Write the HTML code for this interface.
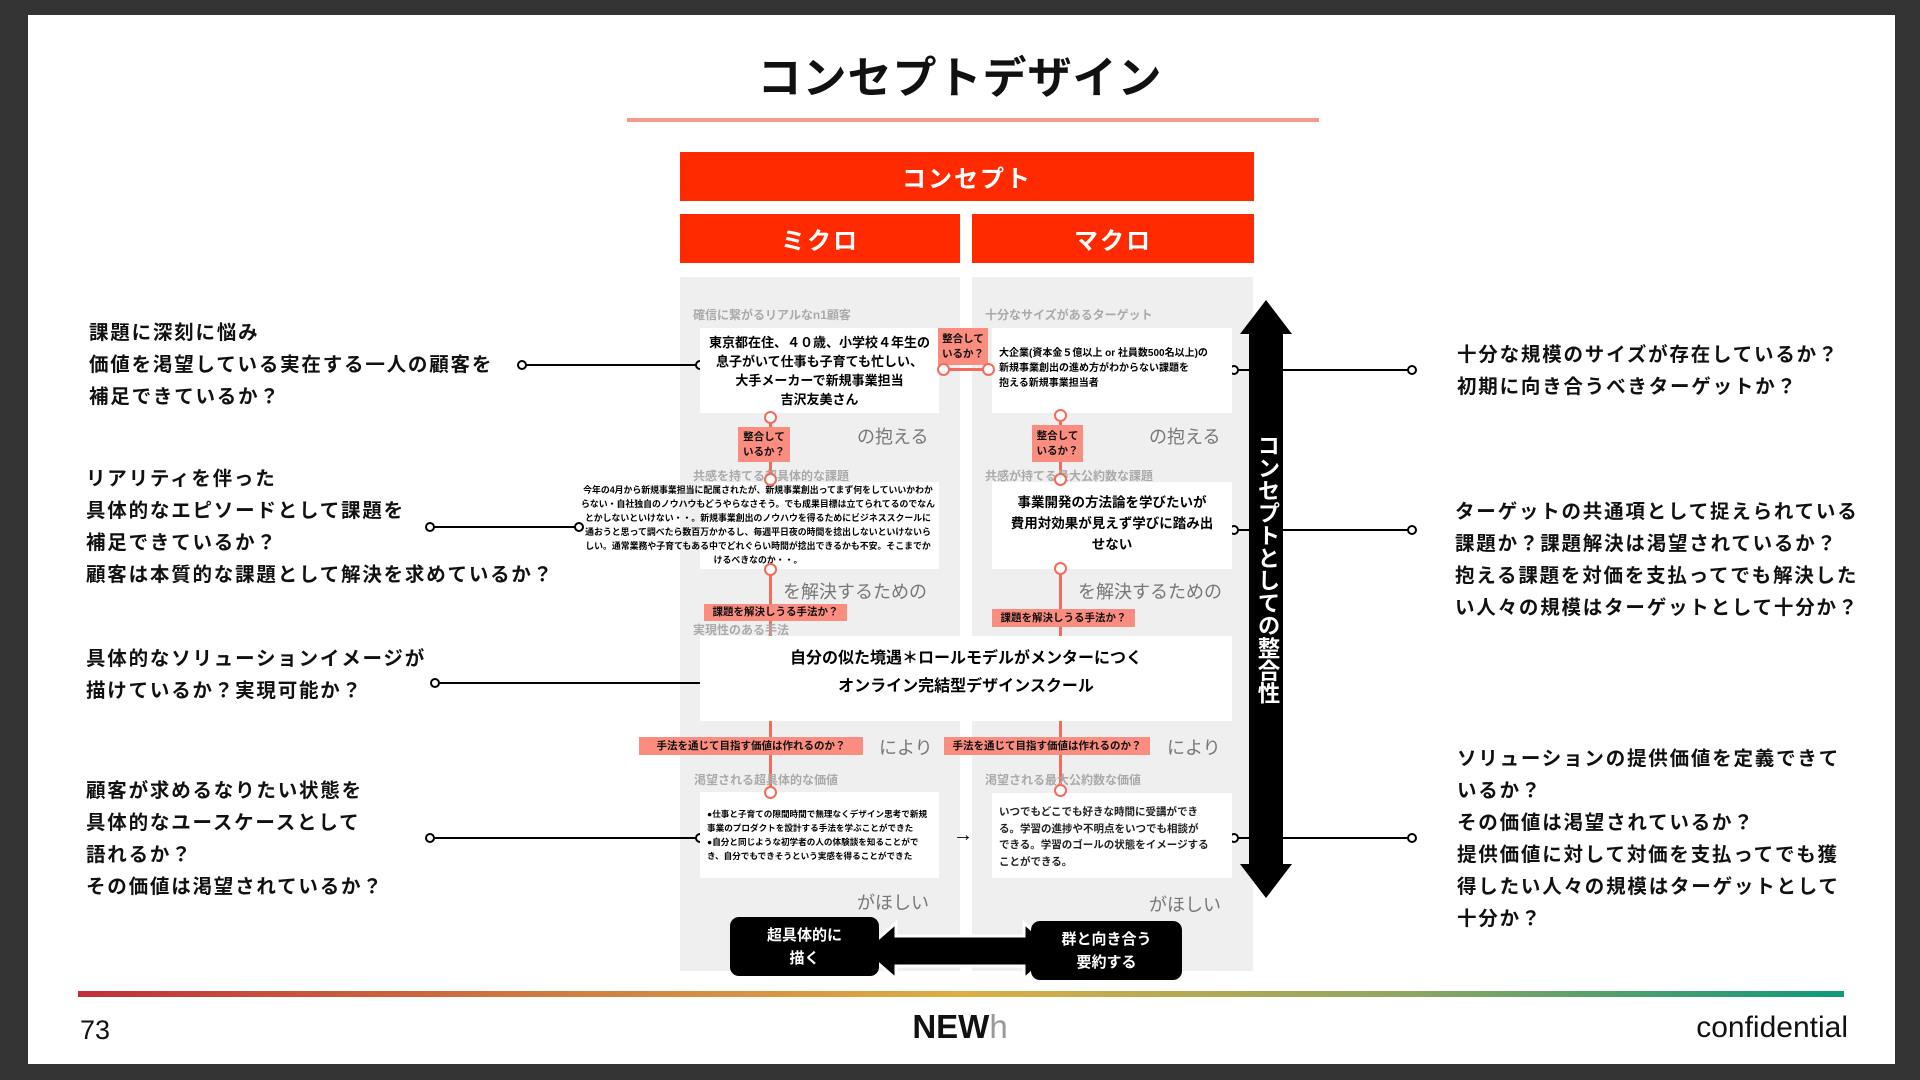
<!DOCTYPE html>
<html><head><meta charset="utf-8"><style>
*{margin:0;padding:0;box-sizing:border-box}
body{width:1920px;height:1080px;background:#333;position:relative;overflow:hidden;font-family:"Liberation Sans","Noto Sans CJK JP",sans-serif;}
.a{position:absolute}
.slide{left:28px;top:15px;width:1867px;height:1049px;background:#fff}
.panel{background:#efefef}
.bar{background:#ff2a00;color:#fff;font-weight:bold;font-size:24px;display:flex;align-items:center;justify-content:center;letter-spacing:2px}
.box{background:#fff}
.lbl{color:#aaa;font-size:12px;font-weight:bold;white-space:nowrap}
.pill{background:#fa8c80;color:#111;font-weight:bold;font-size:10.5px;line-height:15px;white-space:nowrap;display:flex;align-items:center;justify-content:center;text-align:center}
.sl{background:#f26b5b}
.sc{width:13px;height:13px;border:2.5px solid #f26b5b;border-radius:50%;background:#fff}
.bc{width:10px;height:10px;border:2px solid #000;border-radius:50%;background:#fff}
.bl{background:#000;height:2px}
.gr{color:#777;font-size:18px;white-space:nowrap}
.q{font-size:19.5px;font-weight:bold;line-height:32px;white-space:nowrap;color:#111;letter-spacing:1.8px}
.qr{font-size:19.5px;font-weight:bold;line-height:32px;white-space:nowrap;color:#111;letter-spacing:1.8px}
.c{text-align:center;white-space:nowrap}
</style></head><body>
<div class="a slide"></div>
<div class="a" style="left:0;top:42px;width:1920px;text-align:center;font-size:44px;font-weight:bold;letter-spacing:1px;color:#111">コンセプトデザイン</div>
<div class="a" style="left:627px;top:118px;width:692px;height:4px;background:#f59a8c"></div>

<div class="a bar" style="left:680px;top:152px;width:574px;height:49px">コンセプト</div>
<div class="a bar" style="left:680px;top:214px;width:280px;height:49px">ミクロ</div>
<div class="a bar" style="left:972px;top:214px;width:282px;height:49px">マクロ</div>

<div class="a panel" style="left:680px;top:277px;width:280px;height:694px"></div>
<div class="a panel" style="left:972px;top:277px;width:281px;height:694px"></div>

<div class="a bl" style="left:522px;top:364px;width:178px"></div>
<div class="a bc" style="left:517px;top:360px"></div>
<div class="a bc" style="left:695px;top:360px"></div>
<div class="a bl" style="left:430px;top:526px;width:149px"></div>
<div class="a bc" style="left:425px;top:522px"></div>
<div class="a bc" style="left:574px;top:522px"></div>
<div class="a bl" style="left:435px;top:682px;width:265px"></div>
<div class="a bc" style="left:430px;top:678px"></div>
<div class="a bl" style="left:430px;top:837px;width:270px"></div>
<div class="a bc" style="left:425px;top:833px"></div>
<div class="a bc" style="left:695px;top:833px"></div>
<div class="a bl" style="left:1234px;top:369px;width:178px"></div>
<div class="a bc" style="left:1229px;top:365px"></div>
<div class="a bc" style="left:1407px;top:365px"></div>
<div class="a bl" style="left:1234px;top:529px;width:178px"></div>
<div class="a bc" style="left:1229px;top:525px"></div>
<div class="a bc" style="left:1407px;top:525px"></div>
<div class="a bl" style="left:1234px;top:837px;width:178px"></div>
<div class="a bc" style="left:1229px;top:833px"></div>
<div class="a bc" style="left:1407px;top:833px"></div>

<div class="a sl" style="left:769px;top:417px;width:3px;height:62px"></div>
<div class="a sl" style="left:769px;top:569px;width:3px;height:67px"></div>
<div class="a sl" style="left:769px;top:721px;width:3px;height:71px"></div>
<div class="a sl" style="left:1059px;top:415px;width:3px;height:64px"></div>
<div class="a sl" style="left:1059px;top:568px;width:3px;height:68px"></div>
<div class="a sl" style="left:1059px;top:721px;width:3px;height:69px"></div>
<div class="a sl" style="left:944px;top:368px;width:44px;height:3px"></div>

<div class="a lbl" style="left:693px;top:306px">確信に繋がるリアルなn1顧客</div>
<div class="a lbl" style="left:985px;top:306px">十分なサイズがあるターゲット</div>
<div class="a lbl" style="left:693px;top:467px">共感を持てる超具体的な課題</div>
<div class="a lbl" style="left:985px;top:467px">共感が持てる最大公約数な課題</div>
<div class="a lbl" style="left:693px;top:621px">実現性のある手法</div>
<div class="a lbl" style="left:694px;top:771px">渇望される超具体的な価値</div>
<div class="a lbl" style="left:985px;top:771px">渇望される最大公約数な価値</div>

<div class="a box c" style="left:700px;top:328px;width:239px;height:85px;padding-top:5px;font-size:13px;font-weight:bold;line-height:19px">東京都在住、４０歳、小学校４年生の<br>息子がいて仕事も子育ても忙しい、<br>大手メーカーで新規事業担当<br>吉沢友美さん</div>
<div class="a box" style="left:992px;top:328px;width:240px;height:85px;padding:18px 0 0 7px;font-size:10px;font-weight:bold;line-height:15px;white-space:nowrap">大企業(資本金５億以上 or 社員数500名以上)の<br>新規事業創出の進め方がわからない課題を<br>抱える新規事業担当者</div>
<div class="a box" style="left:700px;top:482px;width:239px;height:87px"></div>
<div class="a c" style="left:570px;top:482px;width:376px;font-size:8.9px;font-weight:bold;line-height:14px;padding-top:1px">今年の4月から新規事業担当に配属されたが、新規事業創出ってまず何をしていいかわか<br>らない・自社独自のノウハウもどうやらなさそう。でも成果目標は立てられてるのでなん<br>とかしないといけない・・。新規事業創出のノウハウを得るためにビジネススクールに<br>通おうと思って調べたら数百万かかるし、毎週平日夜の時間を捻出しないといけないら<br>しい。通常業務や子育てもある中でどれぐらい時間が捻出できるかも不安。そこまでか<br>けるべきなのか・・。</div>
<div class="a box c" style="left:992px;top:482px;width:240px;height:87px;padding-top:10px;font-size:13.5px;font-weight:bold;line-height:21px">事業開発の方法論を学びたいが<br>費用対効果が見えず学びに踏み出<br>せない</div>
<div class="a box c" style="left:700px;top:636px;width:532px;height:85px;padding-top:9px;font-size:16px;font-weight:bold;line-height:28px">自分の似た境遇＊ロールモデルがメンターにつく<br>オンライン完結型デザインスクール</div>
<div class="a box" style="left:700px;top:792px;width:239px;height:86px;padding:15px 0 0 7px;font-size:8.6px;font-weight:bold;line-height:14px;white-space:nowrap">●仕事と子育ての隙間時間で無理なくデザイン思考で新規<br>事業のプロダクトを設計する手法を学ぶことができた<br>●自分と同じような初学者の人の体験談を知ることがで<br>き、自分でもできそうという実感を得ることができた</div>
<div class="a box" style="left:992px;top:793px;width:240px;height:85px;padding:11px 0 0 7px;font-size:10.5px;font-weight:bold;line-height:16.5px;white-space:nowrap;color:#222">いつでもどこでも好きな時間に受講ができ<br>る。学習の進捗や不明点をいつでも相談が<br>できる。学習のゴールの状態をイメージする<br>ことができる。</div>

<div class="a pill" style="left:938px;top:328px;width:50px;height:37px">整合して<br>いるか？</div>
<div class="a pill" style="left:738px;top:427px;width:52px;height:35px">整合して<br>いるか？</div>
<div class="a pill" style="left:1032px;top:425px;width:51px;height:37px">整合して<br>いるか？</div>
<div class="a pill" style="left:704px;top:604px;width:143px;height:17px">課題を解決しうる手法か？</div>
<div class="a pill" style="left:992px;top:609px;width:143px;height:18px">課題を解決しうる手法か？</div>
<div class="a pill" style="left:639px;top:737px;width:224px;height:18px">手法を通じて目指す価値は作れるのか？</div>
<div class="a pill" style="left:944px;top:737px;width:206px;height:18px">手法を通じて目指す価値は作れるのか？</div>

<div class="a sc" style="left:937px;top:363px"></div>
<div class="a sc" style="left:982px;top:363px"></div>
<div class="a sc" style="left:764px;top:411px"></div>
<div class="a sc" style="left:764px;top:473px"></div>
<div class="a sc" style="left:764px;top:563px"></div>
<div class="a sc" style="left:764px;top:786px"></div>
<div class="a sc" style="left:1054px;top:409px"></div>
<div class="a sc" style="left:1054px;top:473px"></div>
<div class="a sc" style="left:1054px;top:562px"></div>
<div class="a sc" style="left:1054px;top:784px"></div>

<div class="a gr" style="left:857px;top:423px">の抱える</div>
<div class="a gr" style="left:1149px;top:423px">の抱える</div>
<div class="a gr" style="left:783px;top:578px">を解決するための</div>
<div class="a gr" style="left:1078px;top:578px">を解決するための</div>
<div class="a gr" style="left:879px;top:734px">により</div>
<div class="a gr" style="left:1167px;top:734px">により</div>
<div class="a gr" style="left:857px;top:889px">がほしい</div>
<div class="a gr" style="left:1149px;top:891px">がほしい</div>
<div class="a" style="left:953px;top:824px;font-size:20px">→</div>

<svg class="a" style="left:1238px;top:300px" width="56" height="598">
<polygon points="28,0 54,34 45,34 45,564 54,564 28,598 2,564 11,564 11,34 2,34" fill="#000"/>
</svg>
<div class="a" style="left:1254px;top:434px;width:26px;writing-mode:vertical-rl;font-size:22.5px;font-weight:bold;color:#fff;line-height:26px">コンセプトとしての整合性</div>

<svg class="a" style="left:860px;top:920px" width="200" height="62">
<polygon points="4,31 36,3 36,16 164,16 164,3 196,31 164,59 164,46 36,46 36,59" fill="#000" stroke="#fff" stroke-width="3"/>
</svg>
<div class="a c" style="left:730px;top:917px;width:149px;height:59px;background:#000;border-radius:9px;color:#fff;font-weight:bold;font-size:15px;line-height:23px;padding-top:7px">超具体的に<br>描く</div>
<div class="a c" style="left:1031px;top:921px;width:151px;height:59px;background:#000;border-radius:9px;color:#fff;font-weight:bold;font-size:15px;line-height:23px;padding-top:7px">群と向き合う<br>要約する</div>

<div class="a q" style="left:89px;top:317px">課題に深刻に悩み<br>価値を渇望している実在する一人の顧客を<br>補足できているか？</div>
<div class="a q" style="left:86px;top:463px">リアリティを伴った<br>具体的なエピソードとして課題を<br>補足できているか？<br>顧客は本質的な課題として解決を求めているか？</div>
<div class="a q" style="left:86px;top:643px">具体的なソリューションイメージが<br>描けているか？実現可能か？</div>
<div class="a q" style="left:86px;top:775px">顧客が求めるなりたい状態を<br>具体的なユースケースとして<br>語れるか？<br>その価値は渇望されているか？</div>
<div class="a qr" style="left:1457px;top:339px">十分な規模のサイズが存在しているか？<br>初期に向き合うべきターゲットか？</div>
<div class="a qr" style="left:1455px;top:496px">ターゲットの共通項として捉えられている<br>課題か？課題解決は渇望されているか？<br>抱える課題を対価を支払ってでも解決した<br>い人々の規模はターゲットとして十分か？</div>
<div class="a qr" style="left:1457px;top:743px">ソリューションの提供価値を定義できて<br>いるか？<br>その価値は渇望されているか？<br>提供価値に対して対価を支払ってでも獲<br>得したい人々の規模はターゲットとして<br>十分か？</div>

<div class="a" style="left:78px;top:991px;width:1766px;height:6px;background:linear-gradient(90deg,#c0303a,#d0773e 25%,#dcae45 50%,#8fa662 75%,#0e9a7a)"></div>
<div class="a" style="left:80px;top:1015px;font-size:27px;color:#111">73</div>
<div class="a" style="left:0;top:1008px;width:1920px;text-align:center;font-size:33px;font-weight:bold;color:#111">NEW<span style="font-weight:normal;color:#999">h</span></div>
<div class="a" style="right:72px;top:1011px;font-size:30px;color:#111;text-align:right">confidential</div>
</body></html>
